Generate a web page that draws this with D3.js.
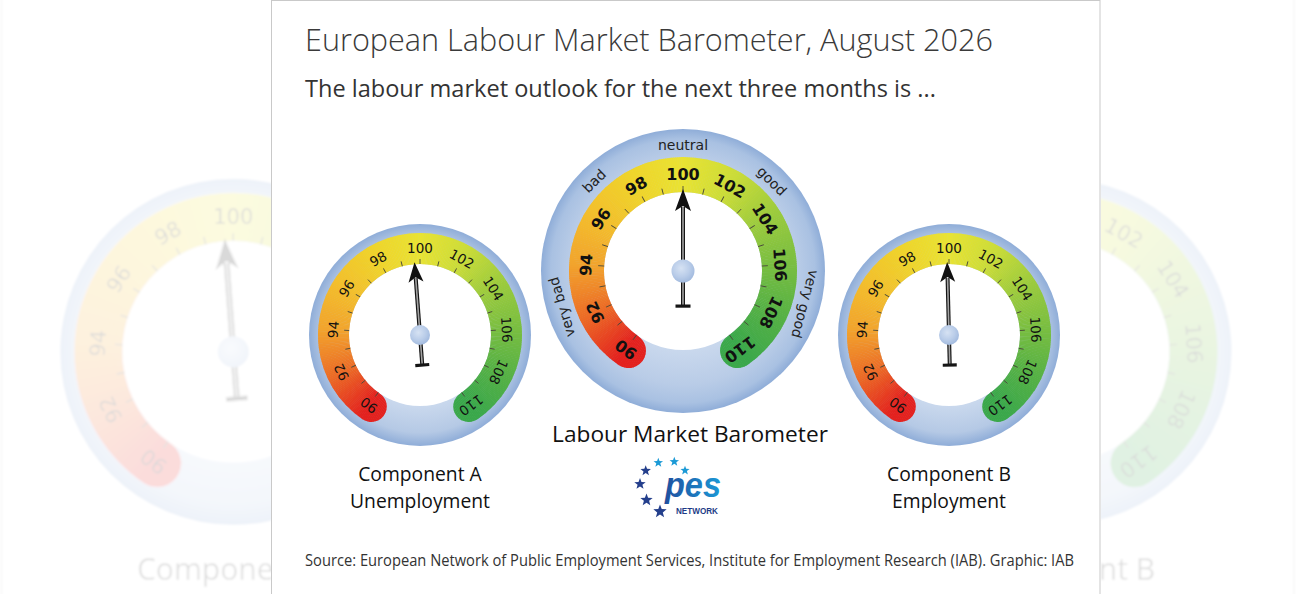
<!DOCTYPE html>
<html><head><meta charset="utf-8">
<script src="https://cdn.jsdelivr.net/npm/d3@7"></script>
<style>body{margin:0;background:#fff;overflow:hidden}svg{display:block}</style>
</head><body>
<svg id="c" width="1296" height="594"></svg>
<script>
// ---------------- data ----------------
const titleText = "European Labour Market Barometer, August 2026";
const subtitleText = "The labour market outlook for the next three months is ...";
const sourceText = "Source: European Network of Public Employment Services, Institute for Employment Research (IAB). Graphic: IAB";
const gaugeNames = ["Component A", "Labour Market Barometer", "Component B"];
const gaugeSubNames = ["Unemployment", "", "Employment"];
const gaugeValues = [99.7, 100.0, 99.9];
const tickLabels = [90, 92, 94, 96, 98, 100, 102, 104, 106, 108, 110];
const minorTicks = [90, 91, 92, 93, 94, 95, 96, 97, 98, 99, 100, 101, 102, 103, 104, 105, 106, 107, 108, 109, 110];
const scaleWords = ["very bad", "bad", "neutral", "good", "very good"];
const scaleWordValues = [92.6, 96.9, 100, 103.1, 107.3];
const colorStopValues = [90, 92, 94, 96, 98, 100, 102, 104, 106, 108, 110];
const colorStops = ["#e3221f", "#ec6c26", "#f2a42d", "#f3bf2c", "#efd42b", "#e9e333", "#cbdc38", "#9ccb3d", "#79be41", "#56b145", "#3ba84b"];

// ---------------- setup ----------------
const svg = d3.select("#c");
const defs = svg.append("defs");
const deg = Math.PI / 180;
const angle = d3.scaleLinear().domain([90, 110]).range([-144, 144]);
const color = d3.scaleLinear().domain(colorStopValues).range(colorStops).clamp(true).interpolate(d3.interpolateRgb);

function radial(id, stops, cx = "50%", cy = "50%", r = "50%") {
  const g = defs.append("radialGradient").attr("id", id).attr("cx", cx).attr("cy", cy).attr("r", r);
  stops.forEach(([o, c]) => g.append("stop").attr("offset", o).attr("stop-color", c));
}
radial("ringBig", [[0, "#d4e0f1"], [0.556, "#c9d8ed"], [0.8, "#b9cce7"], [0.93, "#a9c1e2"], [1, "#8fadd8"]]);
radial("ringSmall", [[0, "#d4e0f1"], [0.64, "#c9d8ed"], [0.88, "#b5c9e5"], [1, "#8fadd8"]]);
radial("hubGrad", [[0, "#d6e2f3"], [0.6, "#bacde9"], [1, "#a3bbdf"]], "42%", "38%", "62%");
const pesGrad = defs.append("linearGradient").attr("id", "pesGrad").attr("x1", 0).attr("x2", 1).attr("y1", 0).attr("y2", 0);
pesGrad.append("stop").attr("offset", 0).attr("stop-color", "#1f4f9e");
pesGrad.append("stop").attr("offset", 1).attr("stop-color", "#1b98d6");
defs.append("filter").attr("id", "blur").attr("x", "-5%").attr("y", "-5%").attr("width", "110%").attr("height", "110%")
  .append("feGaussianBlur").attr("stdDeviation", 0.8);
// backdrop is only visible outside the central white panel
const sideClip = defs.append("clipPath").attr("id", "sideClip");
sideClip.append("rect").attr("x", 0).attr("y", 0).attr("width", 271).attr("height", 594);
sideClip.append("rect").attr("x", 1101).attr("y", 0).attr("width", 195).attr("height", 594);

const cfgBig = {rIn: 79, rBand: 114, rOut: 142, lblR: 97, lblSize: 16, lblWeight: "bold", tickLen: 6,
  hubR: 11.5, tipR: 82, headLen: 22, headW: 16, tailLen: 35, barW: 15, wordR: 126.5, ring: "ringBig", clip: "clipBig"};
const cfgSmall = {rIn: 71, rBand: 102, rOut: 111, lblR: 87, lblSize: 13.5, lblWeight: "normal", tickLen: 5,
  hubR: 10, tipR: 73, headLen: 20, headW: 15, tailLen: 30, barW: 14, wordR: 0, ring: "ringSmall", clip: "clipSmall"};

[cfgBig, cfgSmall].forEach(cfg => {
  defs.append("clipPath").attr("id", cfg.clip).append("path")
    .attr("d", d3.arc().innerRadius(cfg.rIn).outerRadius(cfg.rBand)
      .startAngle(-156 * deg).endAngle(156 * deg).cornerRadius((cfg.rBand - cfg.rIn) / 2)());
});

const layout = [
  {cx: 420, cy: 335, cfg: cfgSmall, capX: 420, capY: [481, 508]},
  {cx: 683, cy: 271, cfg: cfgBig, capX: 690, capY: [442]},
  {cx: 949, cy: 335, cfg: cfgSmall, capX: 949, capY: [481, 508]}
];

function fitFont(sel, w) {
  const cur = sel.node().getComputedTextLength();
  const fs = parseFloat(sel.attr("font-size"));
  sel.attr("font-size", fs * w / cur);
}

function drawGauge(g, cfg, value, showWords) {
  g.append("circle").attr("r", cfg.rOut).attr("fill", `url(#${cfg.ring})`);
  g.append("circle").attr("r", cfg.rIn).attr("fill", "#fff");
  // colour band
  const band = g.append("g").attr("clip-path", `url(#${cfg.clip})`);
  const segArc = d3.arc().innerRadius(cfg.rIn - 1).outerRadius(cfg.rBand + 1);
  const segs = d3.range(-160, 160, 1);
  band.selectAll("path").data(segs).join("path")
    .attr("d", a => segArc({startAngle: a * deg, endAngle: (a + 1.3) * deg}))
    .attr("fill", a => color(angle.invert(a + 0.5)));
  // minor ticks
  g.selectAll("line.tick").data(minorTicks).join("line").attr("class", "tick")
    .attr("transform", d => `rotate(${angle(d)})`)
    .attr("x1", 0).attr("x2", 0).attr("y1", -cfg.rIn).attr("y2", -(cfg.rIn + cfg.tickLen))
    .attr("stroke", "#4a4a3a").attr("stroke-width", 0.9);
  // tick labels
  g.selectAll("text.lbl").data(tickLabels).join("text").attr("class", "lbl")
    .attr("transform", d => `rotate(${angle(d)}) translate(0,${-cfg.lblR})`)
    .attr("text-anchor", "middle").attr("dominant-baseline", "central")
    .attr("font-family", "'DejaVu Sans', sans-serif").attr("font-size", cfg.lblSize)
    .attr("font-weight", cfg.lblWeight).attr("fill", "#111").text(d => d);
  if (showWords) {
    g.selectAll("text.word").data(scaleWords).join("text").attr("class", "word")
      .attr("transform", (d, i) => `rotate(${angle(scaleWordValues[i])}) translate(0,${-cfg.wordR})`)
      .attr("text-anchor", "middle").attr("dominant-baseline", "central")
      .attr("font-family", "'DejaVu Sans', sans-serif").attr("font-size", 14)
      .attr("fill", "#222").text(d => d);
  }
  // needle
  const n = g.append("g").attr("transform", `rotate(${angle(value)})`);
  const shaftTop = -(cfg.tipR - cfg.headLen + 4);
  n.append("line").attr("x1", 0).attr("x2", 0).attr("y1", cfg.tailLen).attr("y2", shaftTop)
    .attr("stroke", "#151515").attr("stroke-width", 4);
  n.append("line").attr("x1", 0).attr("x2", 0).attr("y1", cfg.tailLen - 1).attr("y2", shaftTop)
    .attr("stroke", "#a2a2a2").attr("stroke-width", 1.6);
  n.append("rect").attr("x", -cfg.barW / 2).attr("y", cfg.tailLen - 1.5).attr("width", cfg.barW).attr("height", 3.2)
    .attr("fill", "#151515");
  const t = -cfg.tipR, b = -cfg.tipR + cfg.headLen, hw = cfg.headW / 2;
  n.append("path").attr("d", `M0,${t} L${hw},${b} L0,${b - 5} L${-hw},${b} Z`).attr("fill", "#111");
  g.append("circle").attr("r", cfg.hubR).attr("fill", "url(#hubGrad)");
}

function starPath(cx, cy, R) {
  const pts = [];
  for (let i = 0; i < 10; i++) {
    const r = i % 2 ? R * 0.42 : R;
    const a = -Math.PI / 2 + i * Math.PI / 5;
    pts.push([cx + r * Math.cos(a), cy + r * Math.sin(a)]);
  }
  return "M" + pts.map(p => p.join(",")).join("L") + "Z";
}

function drawChart(root, isBackdrop) {
  root.append("rect").attr("x", 271.5).attr("y", 0.5).attr("width", 828.5).attr("height", 620)
    .attr("fill", "#fff").attr("stroke", "#c9c9c9").attr("stroke-width", 1);
  if (!isBackdrop) {
    const tt = root.append("text").attr("x", 305).attr("y", 51).attr("font-family", "'Open Sans', sans-serif")
      .attr("font-weight", 300).attr("font-size", 31).attr("fill", "#3a3a3a").text(titleText);
    fitFont(tt, 688);
    const st = root.append("text").attr("x", 305).attr("y", 97).attr("font-family", "'Open Sans', sans-serif")
      .attr("font-weight", 400).attr("font-size", 24).attr("fill", "#333").text(subtitleText);
    fitFont(st, 631);
    root.append("text").attr("x", 305).attr("y", 566).attr("font-family", "'Open Sans', sans-serif")
      .attr("font-size", 15.5).attr("fill", "#333").attr("textLength", 769).attr("lengthAdjust", "spacingAndGlyphs")
      .text(sourceText);
  }

  layout.forEach((L, i) => {
    // in the enlarged backdrop the central gauge lies wholly behind the panel
    if (isBackdrop && L.cfg === cfgBig) return;
    const g = root.append("g").attr("transform", `translate(${L.cx},${L.cy})`);
    drawGauge(g, L.cfg, gaugeValues[i], L.cfg === cfgBig);
    const lines = [gaugeNames[i], gaugeSubNames[i]].filter(s => s);
    lines.forEach((s, k) => {
      if (isBackdrop && k > 0) return;
      const tx = root.append("text").attr("x", L.capX).attr("y", L.capY[k]).attr("text-anchor", "middle")
        .attr("font-family", "'Open Sans', sans-serif").attr("font-size", 20).attr("fill", "#111").text(s);
      if (i === 1) fitFont(tx, 276);
      else tx.attr("font-size", 19.3);
    });
  });

  if (isBackdrop) return;
  // PES network logo
  const logo = root.append("g");
  const lightStars = [[658.3, 462.7, 5], [674.3, 461.7, 5], [685, 470.5, 4.8]];
  const darkStars = [[645.7, 470.7, 5.5], [640, 484, 6], [646.5, 500, 6.5], [660, 511.5, 7]];
  lightStars.forEach(s => logo.append("path").attr("d", starPath(...s)).attr("fill", "#1c9ad6"));
  darkStars.forEach(s => logo.append("path").attr("d", starPath(...s)).attr("fill", "#243f8c"));
  logo.append("text").attr("x", 665).attr("y", 497).attr("font-family", "'Liberation Sans', Arial, sans-serif")
    .attr("font-weight", "bold").attr("font-style", "italic").attr("font-size", 35)
    .attr("textLength", 56).attr("lengthAdjust", "spacingAndGlyphs").attr("fill", "url(#pesGrad)").text("pes");
  logo.append("text").attr("x", 676).attr("y", 514).attr("font-family", "'Liberation Sans', Arial, sans-serif")
    .attr("font-weight", "bold").attr("font-size", 9)
    .attr("textLength", 42).attr("lengthAdjust", "spacingAndGlyphs").attr("fill", "#1d3c87").text("NETWORK");
}

// faded, enlarged backdrop copy
const s = 1.56, px = 753.4, py = 305;
const bg = svg.append("g").attr("clip-path", "url(#sideClip)")
  .append("g").attr("opacity", 0.16).attr("filter", "url(#blur)")
  .append("g").attr("transform", `translate(${px * (1 - s)},${py * (1 - s)}) scale(${s})`);
drawChart(bg, true);
// main chart
drawChart(svg.append("g"), false);
</script>
</body></html>
